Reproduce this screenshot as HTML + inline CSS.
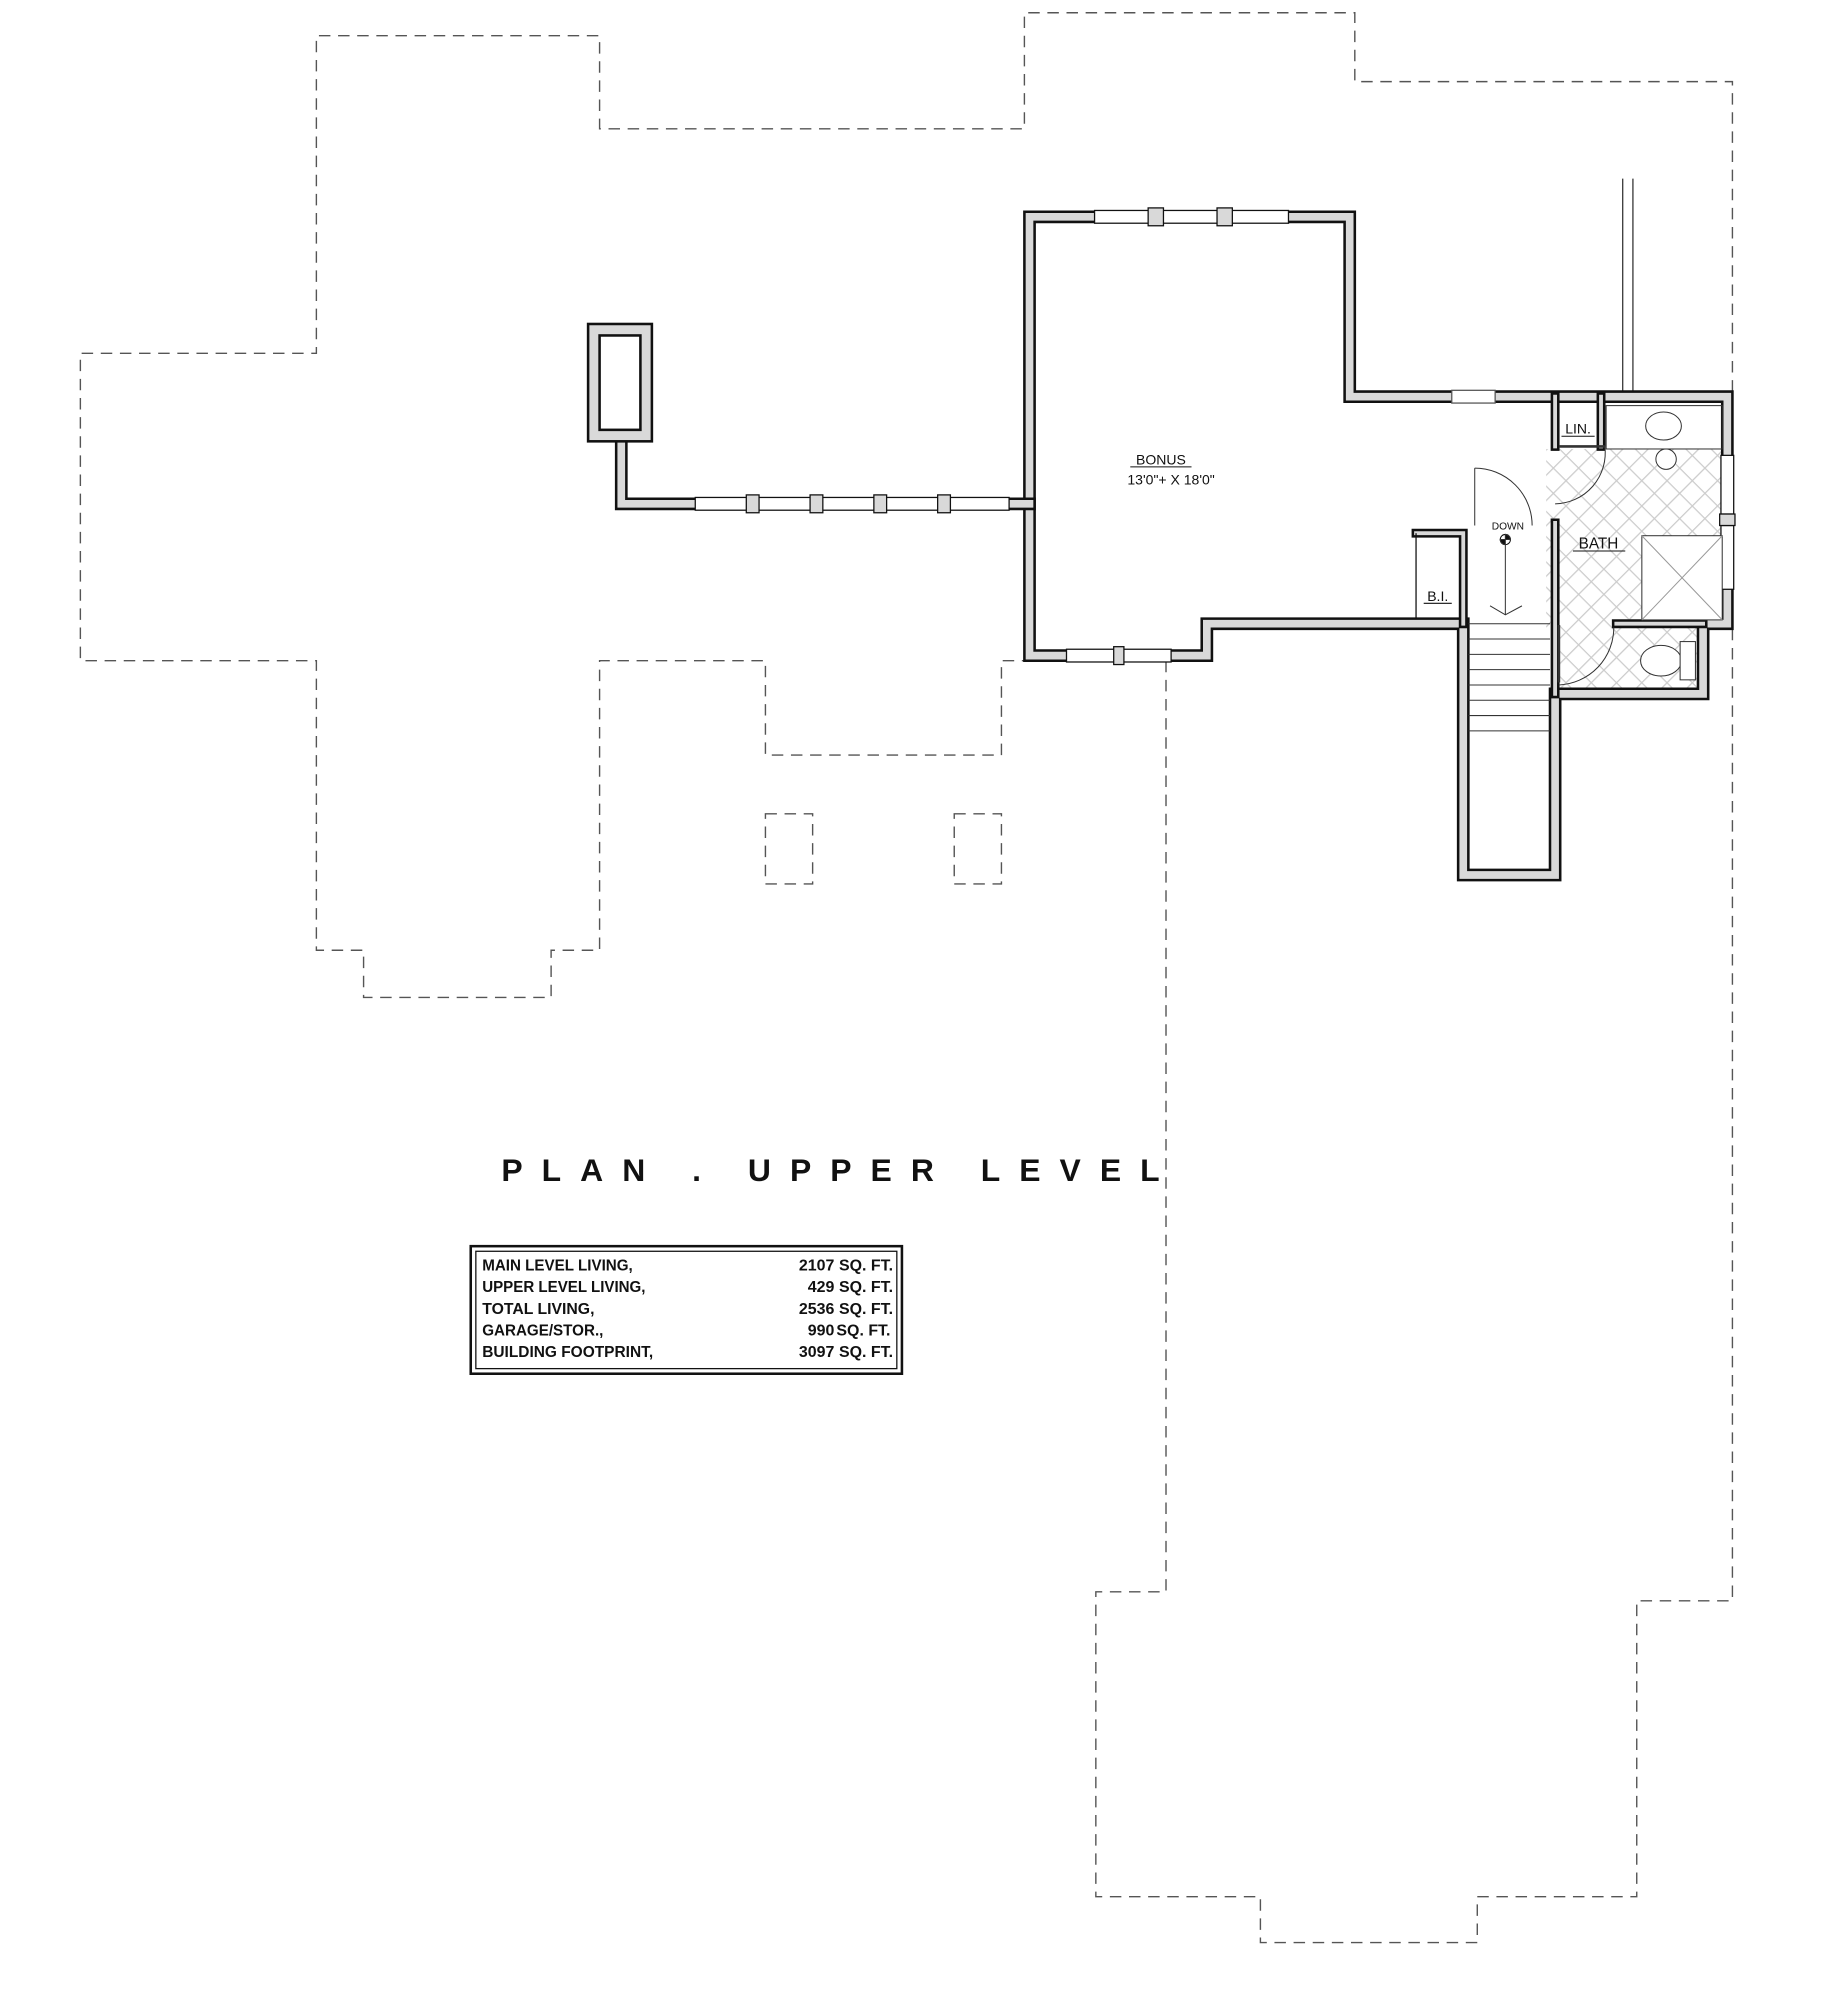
<!DOCTYPE html>
<html><head><meta charset="utf-8"><style>
html,body{margin:0;padding:0;background:#fff;}
svg{display:block;}
.d{fill:none;stroke:#555;stroke-width:1.1;stroke-dasharray:9,6;}
.wo{fill:none;stroke:#111;stroke-width:10;stroke-linejoin:miter;stroke-linecap:square;}
.wi{fill:none;stroke:#d9d9d9;stroke-width:6;stroke-linejoin:miter;stroke-linecap:square;}
.t{font-family:"Liberation Sans",sans-serif;fill:#111;}
.tb{font-family:"Liberation Sans",sans-serif;font-weight:bold;fill:#111;font-size:12.5px;}
</style></head><body>
<svg width="1823" height="2000" viewBox="0 0 1429 1568" preserveAspectRatio="none" xmlns="http://www.w3.org/2000/svg">
<defs>
<pattern id="tile" width="14" height="14" patternUnits="userSpaceOnUse" patternTransform="rotate(45)">
<rect width="14" height="14" fill="#fff"/>
<path d="M0 0H14M0 0V14" stroke="#ccc" stroke-width="2"/>
</pattern>
</defs>
<rect width="1429" height="1568" fill="#fff"/>
<polyline class="d" points="914,518 914,1248 859,1248 859,1487 988,1487 988,1523 1158,1523 1158,1487 1283,1487 1283,1255 1358,1255 1358,64 1062,64 1062,10 803,10 803,101 470,101 470,28 248,28 248,277 63,277 63,518 248,518 248,745 285,745 285,782 432,782 432,745 470,745 470,518 600,518 600,592 785,592 785,518 803,518"/>
<rect class="d" x="600" y="638" width="37" height="55"/>
<rect class="d" x="748" y="638" width="37" height="55"/>
<line x1="1272" y1="140" x2="1272" y2="307" stroke="#333" stroke-width="1"/>
<line x1="1280" y1="140" x2="1280" y2="307" stroke="#333" stroke-width="1"/>

<rect x="1212" y="352" width="140" height="140" fill="url(#tile)"/>
<rect x="1222" y="488" width="110" height="54" fill="url(#tile)"/>
<rect x="1257" y="318" width="93" height="34" fill="#fff"/>

<g>
<polyline class="wo" points="807,170 1058,170 1058,311 1354,311 1354,489 1335,489 1335,544 1219,544 1219,686 1147,686 1147,489 946,489 946,514 807,514 807,170"/>
<polyline class="wi" points="807,170 1058,170 1058,311 1354,311 1354,489 1335,489 1335,544 1219,544 1219,686 1147,686 1147,489 946,489 946,514 807,514 807,170"/>
<polyline class="wo" points="487,346 487,395 807,395"/>
<polyline class="wi" points="487,346 487,395 807,395"/>
<rect x="461" y="254" width="50" height="92" fill="#d9d9d9" stroke="#111" stroke-width="2"/>
<rect x="470" y="263" width="32" height="74" fill="#fff" stroke="#111" stroke-width="2"/>
<polyline class="wo" points="1219,311 1219,350" style="stroke-width:7"/>
<polyline class="wi" points="1219,311 1219,350" style="stroke-width:3"/>
<polyline class="wo" points="1255,311 1255,350" style="stroke-width:7"/>
<polyline class="wi" points="1255,311 1255,350" style="stroke-width:3"/>
<polyline class="wo" points="1219,410 1219,544" style="stroke-width:7"/>
<polyline class="wi" points="1219,410 1219,544" style="stroke-width:3"/>
<polyline class="wo" points="1147,489 1147,418 1110,418" style="stroke-width:7"/>
<polyline class="wi" points="1147,489 1147,418 1110,418" style="stroke-width:3"/>
<polyline class="wo" points="1267,489 1335,489" style="stroke-width:7"/>
<polyline class="wi" points="1267,489 1335,489" style="stroke-width:3"/>
</g>
<line x1="1110" y1="418" x2="1110" y2="485" stroke="#111" stroke-width="1"/>
<g fill="#fff" stroke="#111" stroke-width="1">
<rect x="858" y="165" width="152" height="10"/>
<rect x="900" y="163" width="12" height="14" fill="#d9d9d9"/>
<rect x="954" y="163" width="12" height="14" fill="#d9d9d9"/>
<rect x="836" y="509" width="82" height="10"/>
<rect x="873" y="507" width="8" height="14" fill="#d9d9d9"/>
<rect x="545" y="390" width="246" height="10"/>
<rect x="585" y="388" width="10" height="14" fill="#d9d9d9"/>
<rect x="635" y="388" width="10" height="14" fill="#d9d9d9"/>
<rect x="685" y="388" width="10" height="14" fill="#d9d9d9"/>
<rect x="735" y="388" width="10" height="14" fill="#d9d9d9"/>
<rect x="1138" y="306" width="34" height="10" stroke="#555"/>
<rect x="1349" y="357" width="10" height="46"/>
<rect x="1349" y="412" width="10" height="50"/>
<rect x="1348" y="403" width="12" height="9" fill="#d9d9d9"/>
</g>
<g fill="none" stroke="#333" stroke-width="0.8">
<line x1="1156" y1="367" x2="1156" y2="412"/>
<path d="M1156,367 A45,45 0 0 1 1201,412"/>
<line x1="1222" y1="350" x2="1258" y2="350" stroke-width="2"/>
<path d="M1258,350 A40,40 0 0 1 1219,395"/>
<line x1="1222" y1="490" x2="1222" y2="535" stroke-width="2"/>
<path d="M1265,492 A45,45 0 0 1 1222,537"/>
<rect x="1287" y="420" width="63" height="66" fill="#fff" stroke="#333"/>
<path d="M1287,420 L1350,486 M1350,420 L1287,486" stroke="#999"/>
<rect x="1259" y="318" width="91" height="34" fill="none" stroke="#333"/>
<ellipse cx="1304" cy="334" rx="14" ry="11" fill="#fff"/>
<circle cx="1306" cy="360" r="8" fill="#fff"/>
<ellipse cx="1302" cy="518" rx="16" ry="12" fill="#fff"/>
<rect x="1317" y="503" width="12" height="30" fill="#fff"/>
<g stroke="#333" stroke-width="0.8">
<line x1="1151" y1="489" x2="1215" y2="489"/>
<line x1="1151" y1="501" x2="1215" y2="501"/>
<line x1="1151" y1="513" x2="1215" y2="513"/>
<line x1="1151" y1="525" x2="1215" y2="525"/>
<line x1="1151" y1="537" x2="1215" y2="537"/>
<line x1="1151" y1="549" x2="1215" y2="549"/>
<line x1="1151" y1="561" x2="1215" y2="561"/>
<line x1="1151" y1="573" x2="1215" y2="573"/>
<line x1="1180" y1="425" x2="1180" y2="482"/>
<path d="M1168,475 L1180,482 L1193,475"/>
</g>
<circle cx="1180" cy="423" r="4" fill="#fff" stroke="#111"/>
<path d="M1180,419 A4,4 0 0 1 1184,423 L1180,423Z M1180,427 A4,4 0 0 1 1176,423 L1180,423Z" fill="#111"/>
</g>
<text class="t" x="910" y="364" font-size="11" text-anchor="middle">BONUS</text>
<line x1="886" y1="366" x2="934" y2="366" stroke="#111" stroke-width="0.8"/>
<text class="t" x="918" y="380" font-size="11" text-anchor="middle">13'0"+ X 18'0"</text>
<text class="t" x="1237" y="340" font-size="11" text-anchor="middle">LIN.</text>
<line x1="1224" y1="342" x2="1250" y2="342" stroke="#111" stroke-width="0.8"/>
<text class="t" x="1182" y="415" font-size="8" text-anchor="middle">DOWN</text>
<text class="t" x="1253" y="430" font-size="12" text-anchor="middle">BATH</text>
<line x1="1233" y1="432" x2="1274" y2="432" stroke="#111" stroke-width="0.8"/>
<text class="t" x="1127" y="471" font-size="11" text-anchor="middle">B.I.</text>
<line x1="1116" y1="473" x2="1138" y2="473" stroke="#111" stroke-width="0.8"/>
<text class="t" x="393" y="926" font-size="25" font-weight="bold" textLength="516" lengthAdjust="spacing">PLAN . UPPER LEVEL</text>
<rect x="369" y="977" width="338" height="100" fill="#fff" stroke="#111" stroke-width="2"/>
<rect x="373" y="981" width="330" height="92" fill="none" stroke="#111" stroke-width="1"/>
<g class="tb">
<text x="378" y="996" textLength="118" lengthAdjust="spacingAndGlyphs">MAIN LEVEL LIVING,</text>
<text x="378" y="1013" textLength="128" lengthAdjust="spacingAndGlyphs">UPPER LEVEL LIVING,</text>
<text x="378" y="1030" textLength="88" lengthAdjust="spacingAndGlyphs">TOTAL  LIVING,</text>
<text x="378" y="1047" textLength="95" lengthAdjust="spacingAndGlyphs">GARAGE/STOR.,</text>
<text x="378" y="1064" textLength="134" lengthAdjust="spacingAndGlyphs">BUILDING FOOTPRINT,</text>
<text x="654" y="996" text-anchor="end">2107</text>
<text x="654" y="1013" text-anchor="end">429</text>
<text x="654" y="1030" text-anchor="end">2536</text>
<text x="654" y="1047" text-anchor="end">990</text>
<text x="654" y="1064" text-anchor="end">3097</text>
<text x="700" y="996" text-anchor="end">SQ. FT.</text>
<text x="700" y="1013" text-anchor="end">SQ. FT.</text>
<text x="700" y="1030" text-anchor="end">SQ. FT.</text>
<text x="698" y="1047" text-anchor="end">SQ. FT.</text>
<text x="700" y="1064" text-anchor="end">SQ. FT.</text>
</g>
</svg>
</body></html>
